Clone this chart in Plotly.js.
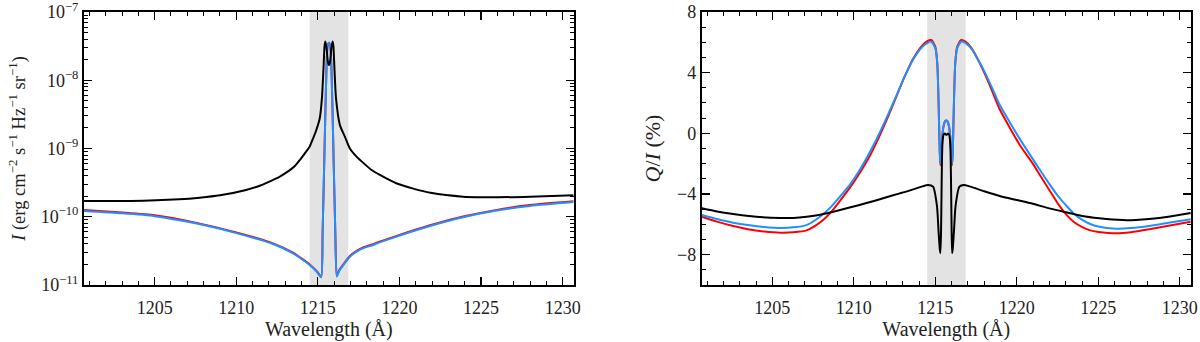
<!DOCTYPE html>
<html lang="en">
<head>
    <meta charset="UTF-8">
    <title>Intensity and Q/I around Lyman-alpha</title>
    <script src="https://cdn.plot.ly/plotly-3.0.1.min.js"></script>
    <style>
        html, body { margin: 0; padding: 0; background: white; }
        #chart { width: 1200px; height: 342px; }
    </style>
</head>
<body>
<div id="chart"></div>
<script>
    // wavelength range shown (Lyman-alpha +/- 15 A) and the grey core band
    const xRange = [1200.67, 1230.67];
    const bandEdges = [1214.5, 1216.86];

    // ---- left panel: intensity ----
    const lamBlackI = [1200.67, 1203.5, 1206.5, 1207.76, 1209.0, 1210.6, 1211.44, 1212.0, 1212.67, 1213.1, 1213.59, 1213.9, 1214.2, 1214.5, 1214.71, 1214.9, 1215.12, 1215.25, 1215.35, 1215.41, 1215.46, 1215.53, 1215.61, 1215.68, 1215.75, 1215.83, 1215.9, 1215.95, 1216.01, 1216.11, 1216.35, 1216.66, 1216.96, 1217.37, 1217.8, 1218.29, 1218.8, 1219.8, 1220.85, 1221.9, 1223.9, 1226.0, 1228.0, 1230.67];
    const blackI = [1.70e-10, 1.70e-10, 1.80e-10, 1.9e-10, 2.06e-10, 2.47e-10, 2.85e-10, 3.25e-10, 3.87e-10, 4.5e-10, 5.55e-10, 6.8e-10, 8.5e-10, 1.07e-9, 1.41e-9, 1.85e-9, 2.8e-9, 5.5e-9, 1.6e-8, 3.2e-8, 3.7e-8, 3.0e-8, 1.9e-8, 1.67e-8, 1.9e-8, 3.0e-8, 3.7e-8, 3.2e-8, 1.6e-8, 5.5e-9, 2.2e-9, 1.48e-9, 1.0e-9, 7.6e-10, 6.1e-10, 4.84e-10, 4.1e-10, 3.1e-10, 2.58e-10, 2.24e-10, 1.97e-10, 1.93e-10, 1.97e-10, 2.07e-10];

    const lamColI = [1200.67, 1203.0, 1205.0, 1207.5, 1210.0, 1212.26, 1213.48, 1214.0, 1214.5, 1214.95, 1215.2, 1215.29, 1215.43, 1215.53, 1215.6, 1215.68, 1215.76, 1215.83, 1215.93, 1216.07, 1216.16, 1216.3, 1216.56, 1216.96, 1217.4, 1217.78, 1218.39, 1218.6, 1219.83, 1221.87, 1223.9, 1225.96, 1228.0, 1230.67];
    const blueI = [1.21e-10, 1.12e-10, 1.02e-10, 8.0e-11, 5.75e-11, 3.98e-11, 2.9e-11, 2.4e-11, 1.96e-11, 1.55e-11, 1.3e-11, 5.7e-11, 1.66e-9, 1.58e-8, 3.2e-8, 3.55e-8, 3.2e-8, 1.58e-8, 1.66e-9, 5.7e-11, 1.33e-11, 1.6e-11, 1.96e-11, 2.6e-11, 3.1e-11, 3.46e-11, 3.86e-11, 4.05e-11, 5.12e-11, 7.3e-11, 9.8e-11, 1.23e-10, 1.44e-10, 1.64e-10];
    const redI = [1.25e-10, 1.15e-10, 1.05e-10, 8.2e-11, 5.9e-11, 4.08e-11, 2.97e-11, 2.45e-11, 2.0e-11, 1.58e-11, 1.32e-11, 5.7e-11, 1.66e-9, 1.58e-8, 3.2e-8, 3.55e-8, 3.2e-8, 1.58e-8, 1.66e-9, 5.7e-11, 1.35e-11, 1.63e-11, 2.0e-11, 2.66e-11, 3.18e-11, 3.55e-11, 3.96e-11, 4.15e-11, 5.25e-11, 7.5e-11, 1.005e-10, 1.26e-10, 1.48e-10, 1.68e-10];

    const iTickVals = [1e-11, 1e-10, 1e-9, 1e-8, 1e-7];
    const iTickText = ['10<sup>−11</sup>', '10<sup>−10</sup>', '10<sup>−9</sup>', '10<sup>−8</sup>', '10<sup>−7</sup>'];

    // ---- right panel: Q/I (%) ----
    const lamBlackQ = [1200.67, 1201.6, 1202.6, 1204.0, 1205.5, 1206.3, 1207.1, 1208.0, 1208.74, 1209.8, 1210.78, 1211.8, 1212.82, 1213.7, 1214.2, 1214.55, 1214.86, 1215.1, 1215.2, 1215.27, 1215.31, 1215.35, 1215.39, 1215.43, 1215.5, 1215.58, 1215.68, 1215.78, 1215.85, 1215.92, 1215.96, 1216.0, 1216.03, 1216.07, 1216.14, 1216.24, 1216.48, 1216.75, 1217.1, 1218.0, 1218.94, 1220.0, 1220.98, 1222.0, 1223.02, 1224.0, 1225.06, 1226.49, 1227.3, 1228.12, 1229.4, 1230.67];
    const blackQ = [-4.94, -5.15, -5.32, -5.50, -5.58, -5.58, -5.50, -5.35, -5.17, -4.88, -4.6, -4.28, -3.96, -3.68, -3.5, -3.41, -3.52, -4.8, -6.5, -7.6, -7.9, -6.5, -3.0, -0.8, -0.1, -0.02, -0.1, -0.02, -0.1, -0.8, -3.0, -6.5, -7.9, -7.6, -6.5, -4.8, -3.52, -3.41, -3.5, -3.82, -4.13, -4.4, -4.65, -4.95, -5.21, -5.45, -5.6, -5.72, -5.71, -5.65, -5.48, -5.25];

    const lamColQ = [1200.67, 1201.6, 1202.6, 1203.5, 1204.5, 1205.5, 1206.3, 1207.1, 1207.6, 1208.13, 1208.6, 1209.15, 1209.75, 1210.37, 1211.0, 1211.5, 1212.0, 1212.62, 1213.1, 1213.63, 1214.2, 1214.5, 1214.76, 1215.0, 1215.12, 1215.2, 1215.27, 1215.31, 1215.36, 1215.42, 1215.5, 1215.6, 1215.67, 1215.74, 1215.84, 1215.92, 1215.98, 1216.03, 1216.07, 1216.14, 1216.22, 1216.34, 1216.58, 1216.85, 1217.2, 1217.6, 1218.0, 1218.5, 1218.94, 1219.5, 1220.17, 1220.98, 1221.5, 1222.0, 1222.5, 1223.02, 1223.5, 1224.04, 1224.5, 1225.0, 1226.08, 1227.0, 1228.12, 1229.3, 1230.67];
    const blueQ = [-5.39, -5.65, -5.89, -6.05, -6.18, -6.24, -6.2, -6.05, -5.75, -5.32, -4.85, -4.18, -3.4, -2.4, -1.2, -0.15, 1.0, 2.5, 3.7, 4.85, 5.7, 5.95, 6.04, 5.6, 4.6, 2.0, -1.2, -2.0, -1.6, -0.3, 0.45, 0.8, 0.85, 0.8, 0.45, -0.3, -1.6, -2.0, -1.2, 2.0, 4.6, 5.6, 6.04, 5.95, 5.6, 4.9, 4.1, 2.95, 1.9, 0.85, -0.35, -1.7, -2.55, -3.35, -4.1, -4.75, -5.3, -5.72, -5.98, -6.15, -6.29, -6.25, -6.11, -5.9, -5.67];
    const redQ = [-5.5, -5.82, -6.11, -6.32, -6.47, -6.55, -6.52, -6.4, -6.12, -5.7, -5.2, -4.45, -3.6, -2.6, -1.45, -0.35, 0.85, 2.45, 3.7, 4.9, 5.8, 6.08, 6.15, 5.7, 4.6, 2.0, -1.2, -2.1, -1.6, -0.3, 0.45, 0.8, 0.85, 0.8, 0.45, -0.3, -1.6, -2.1, -1.2, 2.0, 4.6, 5.7, 6.15, 6.05, 5.65, 4.9, 4.0, 2.75, 1.6, 0.5, -0.75, -2.0, -2.9, -3.75, -4.6, -5.35, -5.85, -6.2, -6.4, -6.5, -6.59, -6.52, -6.33, -6.1, -5.83];

    const serif = "'Liberation Serif', 'DejaVu Serif', serif";
    const lineW = 2;

    function curve(x, y, color, xa, ya) {
        return {
            x: x, y: y, xaxis: xa, yaxis: ya,
            type: 'scatter', mode: 'lines',
            line: { color: color, width: lineW, shape: 'spline', smoothing: 0.6 },
            hoverinfo: 'skip', showlegend: false
        };
    }

    const data = [
        curve(lamColI, redI, '#ff0000', 'x', 'y'),
        curve(lamColI, blueI, '#1e90ff', 'x', 'y'),
        curve(lamBlackI, blackI, '#000000', 'x', 'y'),
        curve(lamColQ, redQ, '#ff0000', 'x2', 'y2'),
        curve(lamColQ, blueQ, '#1e90ff', 'x2', 'y2'),
        curve(lamBlackQ, blackQ, '#000000', 'x2', 'y2')
    ];

    const baseAxis = {
        showline: true, linecolor: 'black', linewidth: 2, mirror: 'allticks',
        ticks: 'inside', ticklen: 8, tickwidth: 1.2, tickcolor: 'black',
        showgrid: false, zeroline: false, ticklabeloverflow: 'allow',
        tickfont: { family: serif, size: 18, color: '#222' }
    };

    function xAxis(domain, anchor) {
        return Object.assign({}, baseAxis, {
            domain: domain, anchor: anchor, range: xRange,
            tick0: 1200, dtick: 5, ticklabelstandoff: 5,
            minor: { ticks: 'inside', ticklen: 4, dtick: 1, tickcolor: 'black', tickwidth: 1 },
            title: { text: 'Wavelength (Å)', font: { family: serif, size: 20, color: '#222' }, standoff: 0 }
        });
    }

    const layout = {
        width: 1200, height: 342,
        margin: { l: 0, r: 0, t: 0, b: 0 },
        paper_bgcolor: 'white', plot_bgcolor: 'white',
        xaxis: xAxis([0.07, 0.478], 'y'),
        xaxis2: xAxis([0.5848, 0.9923], 'y2'),
        yaxis: Object.assign({}, baseAxis, {
            domain: [0.1667, 0.965], anchor: 'x',
            type: 'log', range: [-11, -7],
            tickmode: 'array', tickvals: iTickVals, ticktext: iTickText,
            minor: { ticks: 'inside', ticklen: 4, dtick: 'D1', tickcolor: 'black', tickwidth: 1 },
            title: { text: '<i>I</i> (erg cm<sup>−2</sup> s<sup>−1</sup> Hz<sup>−1</sup> sr<sup>−1</sup>)', font: { family: serif, size: 18.5, color: '#222' }, standoff: 10 }
        }),
        yaxis2: Object.assign({}, baseAxis, {
            domain: [0.1667, 0.965], anchor: 'x2',
            range: [-10, 8], tick0: 0, dtick: 4,
            minor: { ticks: 'inside', ticklen: 4, dtick: 1, tickcolor: 'black', tickwidth: 1 },
            title: { text: '<i>Q</i>/<i>I</i> (%)', font: { family: serif, size: 22, color: '#222' }, standoff: 10 }
        }),
        shapes: [
            { type: 'rect', xref: 'x', yref: 'y domain', x0: bandEdges[0], x1: bandEdges[1], y0: 0, y1: 1, fillcolor: '#e3e3e3', line: { width: 0 }, layer: 'below' },
            { type: 'rect', xref: 'x2', yref: 'y2 domain', x0: bandEdges[0], x1: bandEdges[1], y0: 0, y1: 1, fillcolor: '#e3e3e3', line: { width: 0 }, layer: 'below' }
        ]
    };

    Plotly.newPlot('chart', data, layout, { staticPlot: true });
</script>
</body>
</html>
